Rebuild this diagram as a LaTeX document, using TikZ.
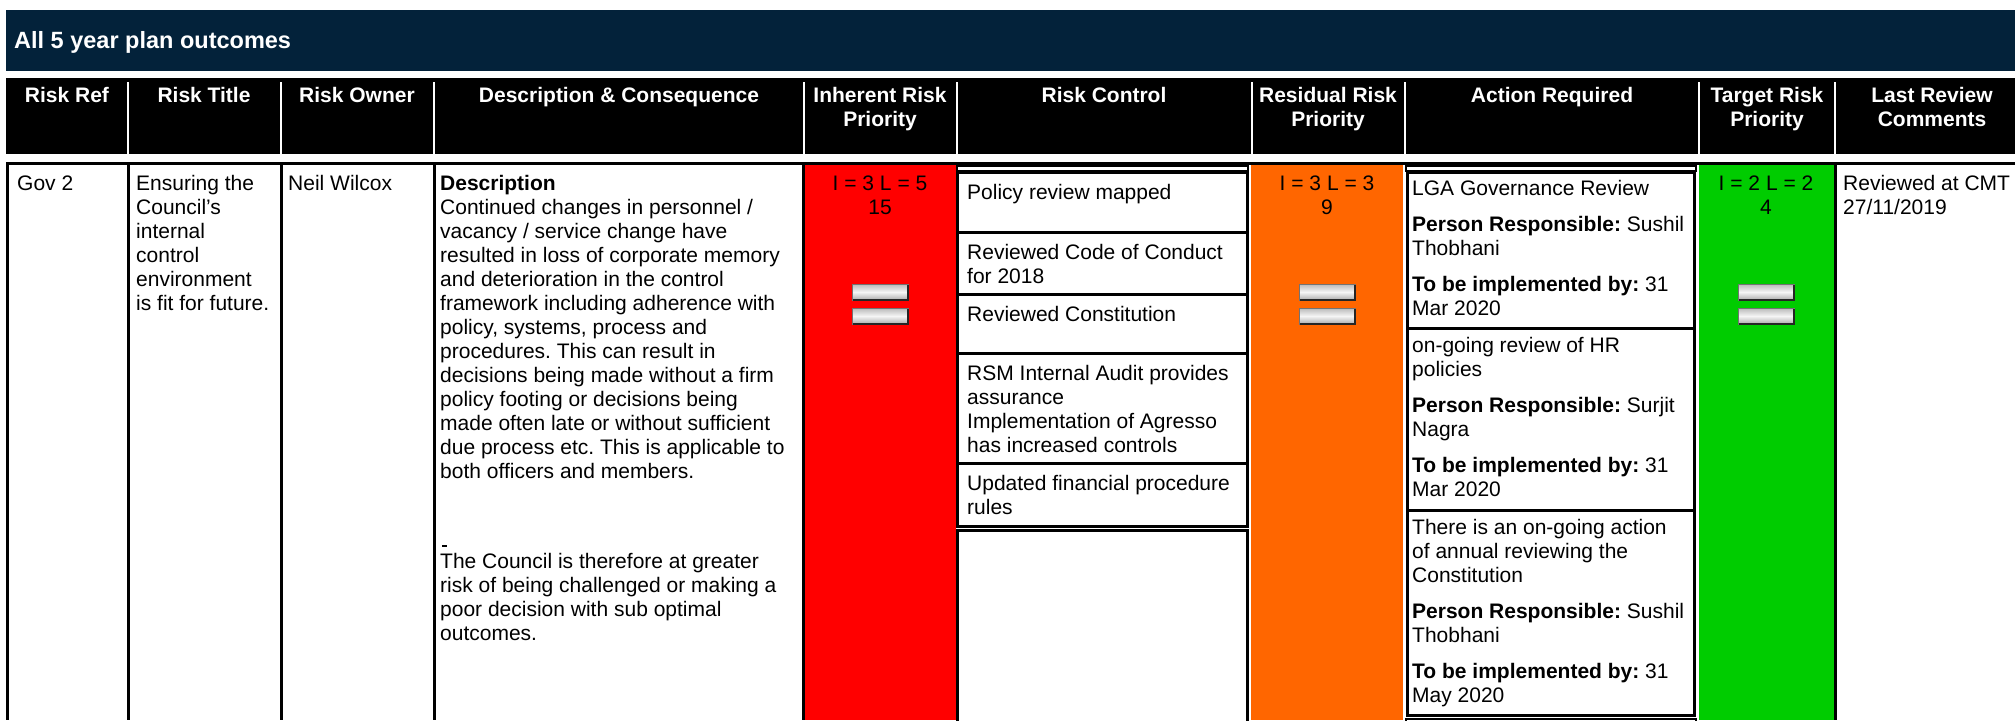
\documentclass[tikz,border=0pt]{standalone}
\usepackage{fontspec}
\setmainfont{Liberation Sans}
\usetikzlibrary{positioning}
\definecolor{navy}{HTML}{03223A}
\definecolor{riskred}{HTML}{FF0000}
\definecolor{riskorange}{HTML}{FF6600}
\definecolor{riskgreen}{HTML}{00CC00}
\frenchspacing
\tikzset{
  headtxt/.style={text=white, font=\fontsize{21}{24}\selectfont\bfseries, align=center, anchor=north, inner sep=0pt},
  celltxt/.style={font=\fontsize{21}{24}\selectfont, align=left, anchor=north west, inner sep=0pt},
  scoretxt/.style={font=\fontsize{21}{24}\selectfont, align=center, anchor=north, inner sep=0pt},
  cellbox/.style={draw=black, line width=3pt, fill=white},
  stripbox/.style={draw=black, line width=1.5pt, fill=white},
  sepline/.style={draw=white, line width=2pt},
  rowline/.style={draw=black, line width=3pt},
  eqbar/.style={draw=black!55, line width=0.8pt, top color=gray!55, bottom color=gray!65, middle color=gray!8},
  eqshadow/.style={draw=black!85, line width=1.6pt},
}
% two bevelled bars, #1 = centre x
\newcommand{\riskeq}[1]{
  \draw[eqbar] (#1-28,284) rectangle (#1+28,300);
  \draw[eqshadow] (#1-27,300) -- (#1+28,300) -- (#1+28,285);
  \draw[eqbar] (#1-28,308) rectangle (#1+28,324);
  \draw[eqshadow] (#1-27,324) -- (#1+28,324) -- (#1+28,309);
}
\begin{document}
\begin{tikzpicture}[x=1pt,y=-1pt]
  \useasboundingbox (0,0) rectangle (2015,720);
  \clip (0,0) rectangle (2015,720);
  % title bar
  \fill[navy] (6,10) rectangle (2015,71);
  \node[anchor=west, text=white, font=\fontsize{23.5}{26}\selectfont\bfseries, inner sep=0pt] (plan) at (14,42) {All 5 year plan outcomes};
  % header row
  \fill[black] (6,78) rectangle (2015,154);
  \foreach \x in {128,281,434,804,957,1252,1405,1699,1835}
    \draw[sepline] (\x,82) -- (\x,154);
  \node[headtxt] (hRef) at (67,85) {\strut Risk Ref};
  \node[headtxt] (hTitle) at (204,85) {\strut Risk Title};
  \node[headtxt] (hOwner) at (357,85) {\strut Risk Owner};
  \node[headtxt] (hDesc) at (619,85) {\strut Description \& Consequence};
  \node[headtxt] (hInh) at (880,85) {\strut Inherent Risk\\Priority};
  \node[headtxt] (hCtrl) at (1104,85) {\strut Risk Control};
  \node[headtxt] (hRes) at (1328,85) {\strut Residual Risk\\Priority};
  \node[headtxt] (hAct) at (1552,85) {\strut Action Required};
  \node[headtxt] (hTgt) at (1767,85) {\strut Target Risk\\Priority};
  \node[headtxt] (hRev) at (1932,85) {\strut Last Review\\Comments};
  % coloured priority columns
  \fill[riskred] (804,164) rectangle (956,720);
  \fill[riskorange] (1251,164) rectangle (1403,720);
  \fill[riskgreen] (1699,164) rectangle (1834,720);
  % row rules
  \draw[rowline] (6,163) -- (2015,163);
  \foreach \x in {7.5,128,281,434,803,1835}
    \draw[rowline] (\x,163) -- (\x,720);
  % risk control boxes
  \draw[stripbox] (957,166) rectangle (1248,171);
  \draw[cellbox] (957.5,172.5) rectangle (1247.5,232);
  \draw[cellbox] (957.5,232) rectangle (1247.5,294);
  \draw[cellbox] (957.5,294) rectangle (1247.5,353);
  \draw[cellbox] (957.5,353) rectangle (1247.5,463);
  \draw[cellbox] (957.5,463) rectangle (1247.5,526);
  \draw[cellbox] (957.5,530) rectangle (1247.5,740);
  % action boxes
  \draw[stripbox] (1406,166) rectangle (1696,171);
  \draw[cellbox] (1407.5,172.5) rectangle (1694.5,328);
  \draw[cellbox] (1407.5,328) rectangle (1694.5,510);
  \draw[cellbox] (1407.5,510) rectangle (1694.5,715);
  \draw[stripbox] (1406,719) rectangle (1696,740);
  % cell texts
  \node[celltxt] (ref) at (17,173) {\strut Gov 2};
  \node[celltxt] (title) at (136,173) {\strut Ensuring the\\Council’s\\internal\\control\\environment\\is fit for future.};
  \node[celltxt] (owner) at (288,173) {\strut Neil Wilcox};
  \node[celltxt] (desc) at (440,173) {\strut\textbf{Description}\\
    Continued changes in personnel /\\
    vacancy / service change have\\
    resulted in loss of corporate memory\\
    and deterioration in the control\\
    framework including adherence with\\
    policy, systems, process and\\
    procedures. This can result in\\
    decisions being made without a firm\\
    policy footing or decisions being\\
    made often late or without sufficient\\
    due process etc. This is applicable to\\
    both officers and members.\\[66pt]
    The Council is therefore at greater\\
    risk of being challenged or making a\\
    poor decision with sub optimal\\
    outcomes.};
  \draw[line width=1.2pt] (442,546) -- (447,546);
  \node[scoretxt] (inh) at (880,173) {\strut I = 3 L = 5\\15};
  \riskeq{880}
  \node[celltxt] (ctrlA) at (967,182) {\strut Policy review mapped};
  \node[celltxt] (ctrlB) at (967,242) {\strut Reviewed Code of Conduct\\for 2018};
  \node[celltxt] (ctrlC) at (967,304) {\strut Reviewed Constitution};
  \node[celltxt] (ctrlD) at (967,363) {\strut RSM Internal Audit provides\\assurance\\Implementation of Agresso\\has increased controls};
  \node[celltxt] (ctrlE) at (967,473) {\strut Updated financial procedure\\rules};
  \node[scoretxt] (res) at (1327,173) {\strut I = 3 L = 3\\9};
  \riskeq{1327}
  \node[celltxt] (actA) at (1412,178) {\strut LGA Governance Review\\[12pt]
    \textbf{Person Responsible:} Sushil\\Thobhani\\[12pt]
    \textbf{To be implemented by:} 31\\Mar 2020};
  \node[celltxt] (actB) at (1412,335) {\strut on-going review of HR\\policies\\[12pt]
    \textbf{Person Responsible:} Surjit\\Nagra\\[12pt]
    \textbf{To be implemented by:} 31\\Mar 2020};
  \node[celltxt] (actC) at (1412,517) {\strut There is an on-going action\\of annual reviewing the\\Constitution\\[12pt]
    \textbf{Person Responsible:} Sushil\\Thobhani\\[12pt]
    \textbf{To be implemented by:} 31\\May 2020};
  \node[scoretxt] (tgt) at (1766,173) {\strut I = 2 L = 2\\4};
  \riskeq{1766}
  \node[celltxt] (review) at (1843,173) {\strut Reviewed at CMT\\27/11/2019};
\end{tikzpicture}
\end{document}
